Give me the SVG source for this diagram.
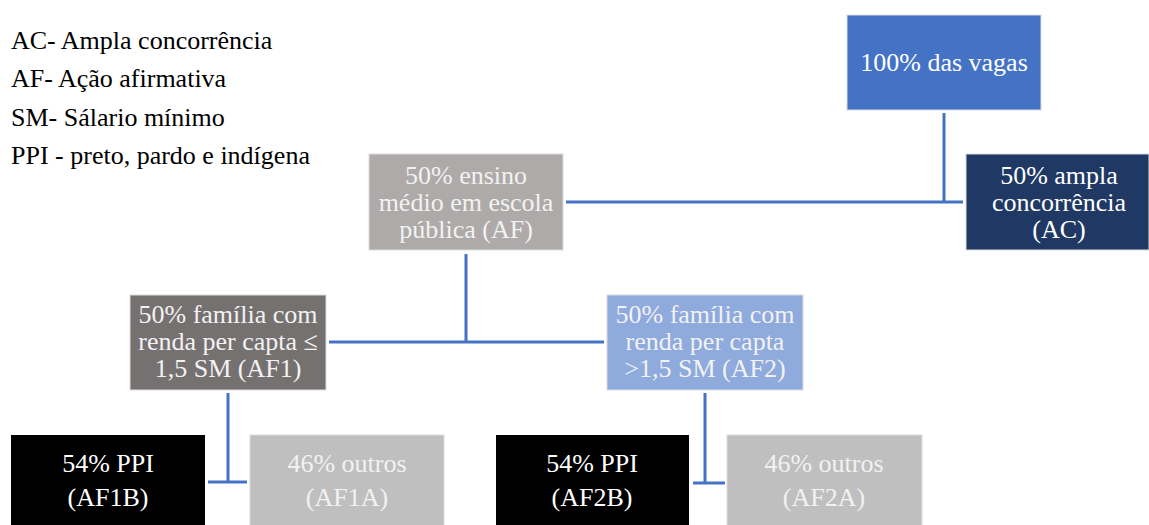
<svg xmlns="http://www.w3.org/2000/svg" width="1149" height="525" viewBox="0 0 1149 525">
<rect width="1149" height="525" fill="#fff"/>
<g id="legend">
<text x="11" y="49" font-family="Liberation Serif" font-size="26" fill="#000">AC- Ampla concorrência</text>
<text x="11" y="87" font-family="Liberation Serif" font-size="26" fill="#000">AF- Ação afirmativa</text>
<text x="11" y="126" font-family="Liberation Serif" font-size="26" fill="#000">SM- Sálario mínimo</text>
<text x="11" y="164" font-family="Liberation Serif" font-size="26" fill="#000">PPI - preto, pardo e indígena</text>
</g>
<g id="connectors" stroke="#4472c4" stroke-width="3" fill="none">
<path d="M944,113 V202 M566,202 H963"/>
<path d="M466,254 V342 M329,342 H604"/>
<path d="M228,393 V482 M208,482 H247"/>
<path d="M705,393 V483 M693,483 H725"/>
</g>
<g id="n100">
<rect x="847" y="15" width="194" height="95" fill="#4472c4" stroke="#dcdcdc"/>
<text x="944" y="71" font-family="Liberation Serif" font-size="26" fill="#fff" text-anchor="middle">100% das vagas</text>
</g>
<g id="nAC">
<rect x="966" y="154" width="183" height="96" fill="#203864" stroke="#dcdcdc"/>
<text x="1059" y="184" font-family="Liberation Serif" font-size="26" fill="#fff" text-anchor="middle">50% ampla</text>
<text x="1059" y="211" font-family="Liberation Serif" font-size="26" fill="#fff" text-anchor="middle">concorrência</text>
<text x="1059" y="238" font-family="Liberation Serif" font-size="26" fill="#fff" text-anchor="middle">(AC)</text>
</g>
<g id="nAF">
<rect x="369" y="154" width="194" height="96" fill="#aeaaaa" stroke="#dcdcdc"/>
<text x="466" y="184" font-family="Liberation Serif" font-size="26" fill="#f2f2f2" text-anchor="middle">50% ensino</text>
<text x="466" y="211" font-family="Liberation Serif" font-size="26" fill="#f2f2f2" text-anchor="middle">médio em escola</text>
<text x="466" y="238" font-family="Liberation Serif" font-size="26" fill="#f2f2f2" text-anchor="middle">pública (AF)</text>
</g>
<g id="nAF1">
<rect x="130" y="295" width="196" height="95" fill="#767171" stroke="#dcdcdc"/>
<text x="228" y="323" font-family="Liberation Serif" font-size="26" fill="#f2f2f2" text-anchor="middle">50% família com</text>
<text x="228" y="350" font-family="Liberation Serif" font-size="26" fill="#f2f2f2" text-anchor="middle">renda per capta ≤</text>
<text x="228" y="377" font-family="Liberation Serif" font-size="26" fill="#f2f2f2" text-anchor="middle">1,5 SM (AF1)</text>
</g>
<g id="nAF2">
<rect x="607" y="295" width="196" height="95" fill="#8faadc" stroke="#dcdcdc"/>
<text x="705" y="323" font-family="Liberation Serif" font-size="26" fill="#f2f2f2" text-anchor="middle">50% família com</text>
<text x="705" y="350" font-family="Liberation Serif" font-size="26" fill="#f2f2f2" text-anchor="middle">renda per capta</text>
<text x="705" y="377" font-family="Liberation Serif" font-size="26" fill="#f2f2f2" text-anchor="middle">&gt;1,5 SM (AF2)</text>
</g>
<g id="nAF1B">
<rect x="11" y="435" width="194" height="95" fill="#000"/>
<text x="108" y="472" font-family="Liberation Serif" font-size="26" fill="#fff" text-anchor="middle">54% PPI</text>
<text x="108" y="506" font-family="Liberation Serif" font-size="26" fill="#fff" text-anchor="middle">(AF1B)</text>
</g>
<g id="nAF1A">
<rect x="250" y="435" width="194" height="95" fill="#bfbfbf" stroke="#dcdcdc"/>
<text x="347" y="472" font-family="Liberation Serif" font-size="26" fill="#f2f2f2" text-anchor="middle">46% outros</text>
<text x="347" y="506" font-family="Liberation Serif" font-size="26" fill="#f2f2f2" text-anchor="middle">(AF1A)</text>
</g>
<g id="nAF2B">
<rect x="496" y="435" width="193" height="95" fill="#000"/>
<text x="592" y="472" font-family="Liberation Serif" font-size="26" fill="#fff" text-anchor="middle">54% PPI</text>
<text x="592" y="506" font-family="Liberation Serif" font-size="26" fill="#fff" text-anchor="middle">(AF2B)</text>
</g>
<g id="nAF2A">
<rect x="727" y="435" width="195" height="95" fill="#bfbfbf" stroke="#dcdcdc"/>
<text x="824" y="472" font-family="Liberation Serif" font-size="26" fill="#f2f2f2" text-anchor="middle">46% outros</text>
<text x="824" y="506" font-family="Liberation Serif" font-size="26" fill="#f2f2f2" text-anchor="middle">(AF2A)</text>
</g>
</svg>
